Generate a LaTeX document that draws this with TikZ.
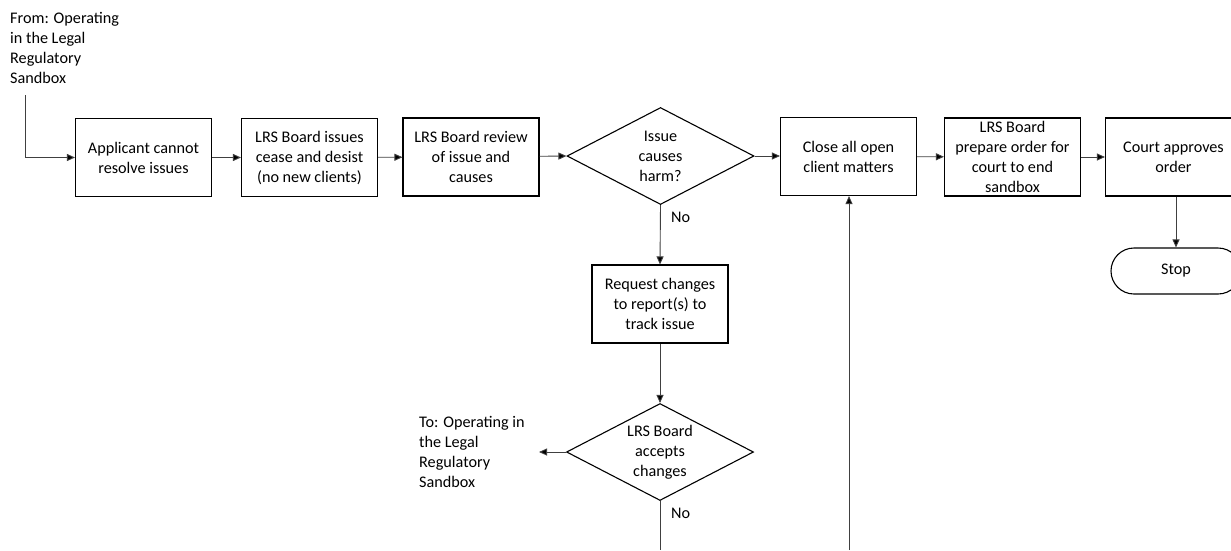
\documentclass[tikz,border=0pt]{standalone}
\usepackage{fontspec}
\setmainfont{Carlito}
\usetikzlibrary{arrows.meta,shapes.geometric}
\begin{document}
\begin{tikzpicture}[x=1pt,y=-1pt,
  every node/.style={font=\fontsize{16.2}{20}\selectfont, text=black},
  stepbox/.style={draw=black, line width=1.1pt, minimum width=136pt, minimum height=78pt, align=center, inner sep=0pt},
  decision/.style={draw=black, line width=1.1pt, diamond, minimum width=187pt, minimum height=97pt, inner sep=0pt},
  term/.style={draw=black, line width=1.1pt, rounded corners=23pt, minimum width=130pt, minimum height=46pt, inner sep=0pt},
  free/.style={align=left, inner sep=0pt},
  conn/.style={draw=black!75, line width=0.9pt, -{Triangle[length=8pt,width=7pt,fill=black]}},
  line/.style={draw=black!75, line width=0.9pt}
]
\useasboundingbox (0,0) rectangle (1231,550);
\node[free, anchor=north west] (from) at (10,12) {From: Operating\\in the Legal\\Regulatory\\Sandbox};
\coordinate (fromend) at (25,95);
\node[stepbox] (b1) at (143.5,157.5) {Applicant cannot\\resolve issues};
\node[stepbox] (b2) at (309.5,157.5) {LRS Board issues\\cease and desist\\(no new clients)};
\node[stepbox] (b3) at (471,157) {LRS Board review\\of issue and\\causes};
\node[decision, label={center:{\parbox{60pt}{\centering Issue\\causes\\harm?}}}] (d1) at (660.5,156) {};
\node[stepbox] (b4) at (848.5,156.5) {Close all open\\client matters};
\node[stepbox] (b5) at (1012.5,157) {LRS Board\\prepare order for\\court to end\\sandbox};
\node[stepbox] (b6) at (1173.5,157) {Court approves\\order};
\node[term] (stop) at (1176,271) {Stop};
\node[stepbox] (b7) at (660,304) {Request changes\\to report(s) to\\track issue};
\node[decision, label={center:{\parbox{80pt}{\centering LRS Board\\accepts\\changes}}}] (d2) at (660,452) {};
\node[free, anchor=west] (to) at (419,452) {To: Operating in\\the Legal\\Regulatory\\Sandbox};
\coordinate (toend) at (539,452);
\coordinate (d2end) at (660,550);
\coordinate (upstart) at (849,550);
\node[free, anchor=west] (no1) at (671,217) {No};
\node[free, anchor=west] (no2) at (671,513) {No};

\draw[conn] (fromend) |- (b1.west);
\draw[conn] (b1) -- (b2);
\draw[conn] (b2) -- (b3);
\draw[conn] (b3) -- (d1.west);
\draw[conn] (d1.east) -- (b4.west |- d1.east);
\draw[conn] (b4) -- (b5);
\draw[conn] (b5) -- (b6);
\draw[conn] (b6.south -| stop.north) -- (stop.north);
\draw[conn] (d1.south) -- (b7.north);
\draw[conn] (b7.south) -- (d2.north);
\draw[conn] (d2.west) -- (toend);
\draw[line] (d2.south) -- (d2end);
\draw[conn] (upstart) -- (upstart |- b4.south);
\end{tikzpicture}
\end{document}
